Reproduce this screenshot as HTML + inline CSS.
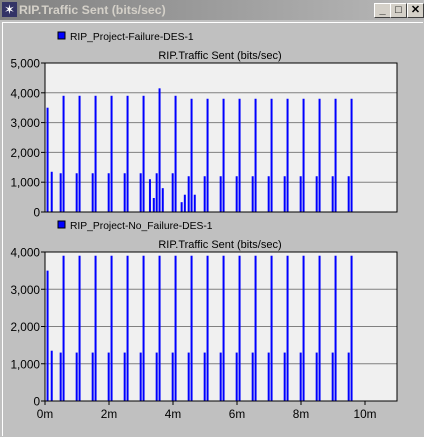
<!DOCTYPE html>
<html><head><style>
body{margin:0;width:424px;height:437px;background:#c0c0c0;font-family:"Liberation Sans",sans-serif;overflow:hidden;position:relative}
.tb{position:absolute;left:0;top:0;width:424px;height:20px;background:linear-gradient(90deg,#808080,#b8b8b8)}
.tt{position:absolute;left:19px;top:3px;font-weight:bold;font-size:12.3px;color:#d4d0c8}
.btn{position:absolute;top:3px;width:15px;height:13px;background:#d4d0c8;border:1px solid;border-color:#fff #404040 #404040 #fff;font-size:11px;line-height:13px;text-align:center;font-weight:bold}
</style></head><body>
<div class="tb">
<div style="position:absolute;left:2px;top:2px;width:15px;height:15px;background:#336;color:#fff;font-size:13px;line-height:15px;text-align:center">✶</div>
<div class="tt">RIP.Traffic Sent (bits/sec)</div>
<div class="btn" style="left:374px">_</div>
<div class="btn" style="left:390px">□</div>
<div class="btn" style="left:407px">✕</div>
</div>
<div style="position:absolute;left:2px;top:22px;width:420px;height:413px;border-top:1px solid #fff;border-left:1px solid #fff"></div>
<svg id="s" width="424" height="437" style="position:absolute;left:0;top:0" font-family="Liberation Sans, sans-serif"></svg>
<script>
const xTicks=[0,2,4,6,8,10];
const xTickLabels=["0m","2m","4m","6m","8m","10m"];
const topTimes=[0.08,0.21,0.49,0.58,0.99,1.08,1.49,1.58,1.99,2.08,2.49,2.58,2.99,3.08,3.28,3.4,3.49,3.58,3.68,3.99,4.08,4.27,4.37,4.49,4.58,4.68,4.99,5.08,5.49,5.58,5.99,6.08,6.49,6.58,6.99,7.08,7.49,7.58,7.99,8.08,8.49,8.58,8.99,9.08,9.49,9.58];
const topValues=[3500,1350,1300,3900,1300,3900,1300,3900,1300,3900,1300,3900,1300,3900,1100,470,1300,4150,800,1300,3900,330,580,1200,3800,580,1200,3800,1200,3800,1200,3800,1200,3800,1200,3800,1200,3800,1200,3800,1200,3800,1200,3800,1200,3800];
const botTimes=[0.08,0.21,0.49,0.58,0.99,1.08,1.49,1.58,1.99,2.08,2.49,2.58,2.99,3.08,3.49,3.58,3.99,4.08,4.49,4.58,4.99,5.08,5.49,5.58,5.99,6.08,6.49,6.58,6.99,7.08,7.49,7.58,7.99,8.08,8.49,8.58,8.99,9.08,9.49,9.58];
const botValues=[3500,1350,1300,3900,1300,3900,1300,3900,1300,3900,1300,3900,1300,3900,1300,3900,1300,3900,1300,3900,1300,3900,1300,3900,1300,3900,1300,3900,1300,3900,1300,3900,1300,3900,1300,3900,1300,3900,1300,3900];
const topYTicks=[0,1000,2000,3000,4000,5000];
const botYTicks=[0,1000,2000,3000,4000];
const topLegend="RIP_Project-Failure-DES-1";
const botLegend="RIP_Project-No_Failure-DES-1";
const NS="http://www.w3.org/2000/svg",svg=document.getElementById('s');
function mk(t,a,txt){const e=document.createElementNS(NS,t);for(const k in a)e.setAttribute(k,a[k]);if(txt!=null)e.textContent=txt;svg.appendChild(e);return e;}
const X0=45,X1=397;const xs=t=>X0+(t/11)*(X1-X0);
function chart(id,top,bot,ymax,yt,times,vals,leg,showX){
 const ys=v=>bot-(v/ymax)*(bot-top);
 let r=mk('rect',{x:X0,y:top,width:X1-X0,height:bot-top,fill:'#f0f0f0'});
 
 yt.forEach(v=>{const y=ys(v);
  if(v>0&&v<ymax){const g=mk('line',{x1:X0,x2:X1,y1:y,y2:y,stroke:'#808080'});}
  const tk=mk('line',{x1:X0-4,x2:X0,y1:y,y2:y,stroke:'#000'});
  const l=mk('text',{x:X0-5,y:y+4.5,'font-size':11.8,'text-anchor':'end'},v.toLocaleString('en-US'));});
 times.forEach((t,i)=>{const b=mk('rect',{x:xs(t)-1,y:ys(vals[i]),width:2,height:bot-ys(vals[i]),fill:'#0000ff'});
  });
 r=mk('rect',{x:X0,y:top,width:X1-X0,height:bot-top,fill:'none',stroke:'#000'});
 
 const t=mk('text',{x:220,y:top-4,'font-size':11,'text-anchor':'middle'},'RIP.Traffic Sent (bits/sec)');
 const ls=mk('rect',{x:58,y:top-31,width:7,height:7,fill:'#0000ff',stroke:'#000'});
 const lt=mk('text',{x:70,y:top-23,'font-size':10.3},leg);
 if(showX)xTicks.forEach((v,i)=>{const x=xs(v);
  const tk=mk('line',{x1:x,x2:x,y1:bot,y2:bot+4,stroke:'#000'});
  const l=mk('text',{x:x,y:bot+17,'font-size':11.8,'text-anchor':'middle'},xTickLabels[i]);});
}
chart('top-chart',63,212,5000,topYTicks,topTimes,topValues,topLegend,false);
chart('bottom-chart',252,401,4000,botYTicks,botTimes,botValues,botLegend,true);
</script>
</body></html>
